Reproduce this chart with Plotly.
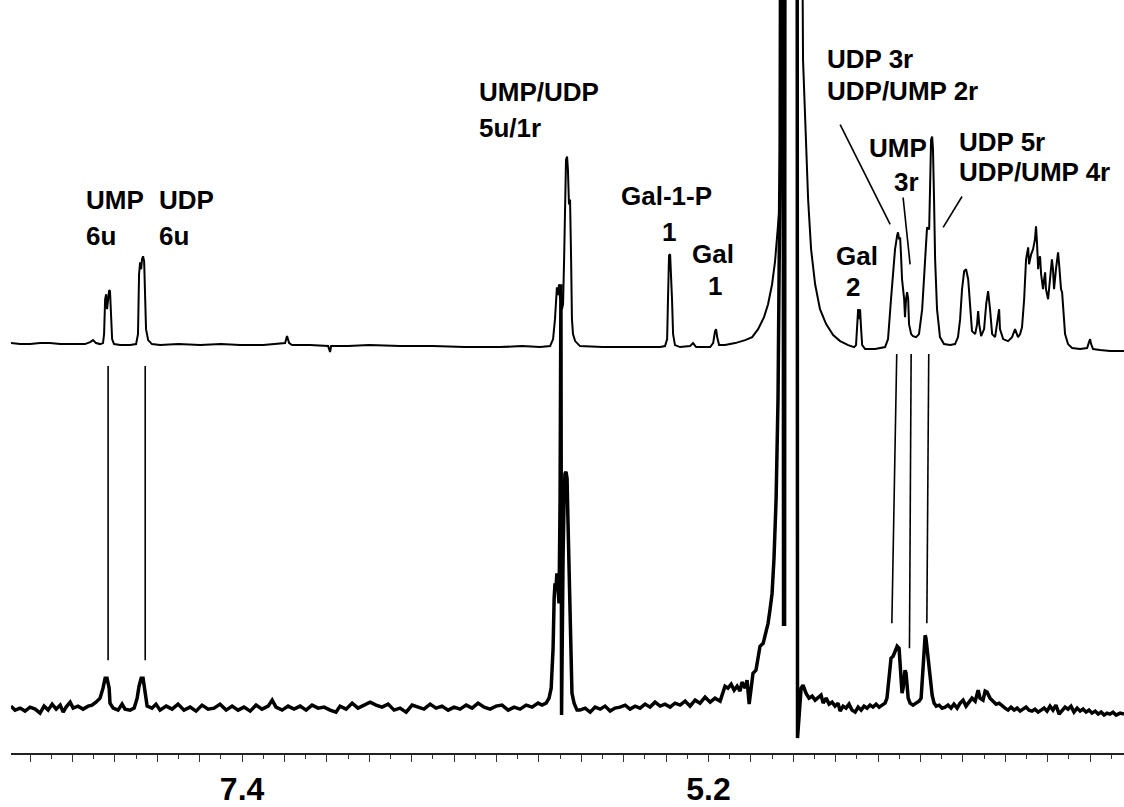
import plotly.graph_objects as go

# 1H NMR traces: (chemical shift in ppm, intensity above each trace's own baseline)
upper_spectrum = [
    (8.490, 1), (8.447, 0), (8.400, 0), (8.353, 1), (8.306, 1), (8.258, 0), (8.211, 0),
    (8.141, 0), (8.117, 2), (8.103, 4), (8.089, 1), (8.070, 0), (8.056, 1), (8.051, 10),
    (8.046, 45), (8.041, 50), (8.037, 35), (8.032, 45), (8.027, 54), (8.023, 53),
    (8.018, 25), (8.013, 5), (8.004, 0), (7.975, -1), (7.928, -1), (7.900, 0),
    (7.891, 10), (7.886, 70), (7.881, 82), (7.876, 75), (7.872, 85), (7.867, 88),
    (7.862, 83), (7.857, 45), (7.853, 15), (7.843, 4), (7.825, 0), (7.787, -1),
    (7.700, 0), (7.598, -1), (7.500, 0), (7.409, -1), (7.300, -1), (7.197, 1),
    (7.188, 8), (7.178, 1), (7.164, -1), (7.080, -1), (6.994, -2), (6.985, -8),
    (6.980, -2), (6.900, -2), (6.800, -1), (6.655, -2), (6.500, -2), (6.350, -3),
    (6.183, -3), (6.080, -2), (5.994, -3), (5.947, -2), (5.933, 5), (5.924, 25),
    (5.919, 47), (5.915, 57), (5.910, 49), (5.905, 60), (5.900, 45), (5.896, 53),
    (5.891, 35), (5.886, 40), (5.881, 85), (5.877, 145), (5.872, 185), (5.867, 188),
    (5.863, 175), (5.858, 140), (5.853, 145), (5.848, 85), (5.844, 25), (5.839, 10),
    (5.829, 3), (5.806, -2), (5.700, -3), (5.617, -3), (5.500, -3), (5.428, -3),
    (5.405, -2), (5.395, 5), (5.391, 45), (5.386, 89), (5.381, 90), (5.376, 50),
    (5.372, 45), (5.367, 10), (5.358, -1), (5.334, -3), (5.287, -2), (5.273, 1),
    (5.258, -3), (5.192, -3), (5.178, 1), (5.169, 13), (5.164, 15), (5.159, 7),
    (5.150, -1), (5.122, -1), (5.074, 1), (5.027, 4), (4.994, 7), (4.966, 15),
    (4.938, 27), (4.919, 40), (4.900, 60), (4.886, 83), (4.872, 115), (4.862, 145),
    (4.853, 205), (4.848, 285), (4.843, 800), (4.768, 800), (4.754, 285), (4.744, 225),
    (4.730, 145), (4.716, 95), (4.697, 60), (4.674, 35), (4.645, 20), (4.612, 9),
    (4.579, 3), (4.541, -1), (4.513, -3), (4.504, -1), (4.499, 15), (4.494, 35),
    (4.490, 25), (4.485, 35), (4.480, 15), (4.475, -1), (4.461, -5), (4.414, -5),
    (4.367, -3), (4.353, 5), (4.339, 45), (4.329, 75), (4.320, 95), (4.310, 109),
    (4.306, 112), (4.301, 105), (4.296, 107), (4.292, 90), (4.287, 65), (4.277, 45),
    (4.273, 27), (4.268, 45), (4.263, 52), (4.258, 45), (4.254, 20), (4.244, 10),
    (4.235, 8), (4.221, 7), (4.207, 10), (4.192, 35), (4.183, 65), (4.174, 105),
    (4.169, 117), (4.159, 115), (4.155, 145), (4.150, 205), (4.145, 208), (4.141, 195),
    (4.136, 145), (4.131, 85), (4.122, 35), (4.108, 7), (4.089, 0), (4.060, -1),
    (4.037, 0), (4.023, 7), (4.013, 25), (4.004, 55), (3.994, 73), (3.985, 75),
    (3.975, 65), (3.966, 35), (3.957, 13), (3.942, 10), (3.933, 20), (3.928, 33),
    (3.923, 20), (3.914, 8), (3.900, 15), (3.890, 40), (3.881, 53), (3.872, 35),
    (3.862, 10), (3.848, 7), (3.834, 25), (3.829, 35), (3.825, 15), (3.810, 5),
    (3.787, 3), (3.768, 7), (3.754, 15), (3.740, 7), (3.730, 10), (3.721, 17),
    (3.711, 45), (3.702, 85), (3.692, 97), (3.688, 80), (3.678, 90), (3.669, 95),
    (3.660, 105), (3.655, 118), (3.650, 100), (3.645, 75), (3.641, 85), (3.636, 88),
    (3.631, 70), (3.622, 55), (3.617, 65), (3.612, 72), (3.608, 55), (3.598, 45),
    (3.589, 65), (3.580, 85), (3.575, 75), (3.570, 55), (3.561, 75), (3.551, 92),
    (3.546, 80), (3.537, 55), (3.532, 52), (3.527, 35), (3.518, 10), (3.504, 0),
    (3.485, -4), (3.447, -5), (3.414, -4), (3.405, 2), (3.400, 5), (3.395, 0),
    (3.386, -5), (3.353, -6), (3.306, -7), (3.240, -7),
]

lower_spectrum = [
    (8.490, 2), (8.471, -2), (8.447, 0), (8.424, -3), (8.400, 1), (8.376, -1),
    (8.353, -5), (8.334, 2), (8.315, -2), (8.296, 4), (8.277, -1), (8.258, 3),
    (8.244, -4), (8.230, 1), (8.211, 6), (8.197, 0), (8.174, 2), (8.150, -1),
    (8.126, 2), (8.108, 3), (8.089, 6), (8.070, 10), (8.056, 20), (8.046, 30),
    (8.037, 30), (8.027, 20), (8.023, 5), (8.008, 0), (7.985, -2), (7.966, 4),
    (7.952, -1), (7.928, -2), (7.909, 0), (7.895, 10), (7.886, 22), (7.876, 30),
    (7.867, 30), (7.857, 15), (7.848, 2), (7.825, 0), (7.806, 4), (7.787, -2),
    (7.758, 2), (7.730, -1), (7.702, 4), (7.674, -2), (7.645, 1), (7.617, -3),
    (7.589, 3), (7.560, -1), (7.532, 0), (7.504, 4), (7.475, -2), (7.447, 2),
    (7.419, -2), (7.391, 1), (7.362, -3), (7.334, 3), (7.306, -1), (7.277, 2),
    (7.258, 8), (7.240, 1), (7.211, -2), (7.183, 2), (7.155, -1), (7.126, 2),
    (7.098, -2), (7.070, 3), (7.041, 0), (7.013, 1), (6.985, -2), (6.957, -4),
    (6.938, 2), (6.909, -1), (6.881, 5), (6.853, 0), (6.825, 3), (6.796, 6),
    (6.768, 3), (6.740, 1), (6.711, 4), (6.683, -2), (6.655, 0), (6.626, -4),
    (6.598, 3), (6.570, 1), (6.542, -1), (6.513, 4), (6.485, 0), (6.457, 2),
    (6.428, -2), (6.400, 1), (6.372, -1), (6.343, 3), (6.315, 0), (6.287, 5),
    (6.258, 1), (6.230, -1), (6.202, 2), (6.174, 3), (6.145, -2), (6.117, 1),
    (6.089, -1), (6.060, 3), (6.032, 1), (6.004, 5), (5.985, 3), (5.966, 5),
    (5.952, 10), (5.942, 20), (5.933, 60), (5.928, 110), (5.924, 125), (5.919, 122),
    (5.915, 135), (5.910, 120), (5.905, 105), (5.900, 210), (5.896, 425), (5.893, -7),
    (5.891, 90), (5.886, 150), (5.881, 210), (5.877, 235), (5.872, 237), (5.867, 230),
    (5.863, 190), (5.858, 140), (5.853, 110), (5.848, 50), (5.844, 15), (5.834, 5),
    (5.820, -2), (5.806, -2), (5.782, 0), (5.758, -4), (5.735, 1), (5.711, -1),
    (5.688, 2), (5.664, -3), (5.641, 0), (5.617, 1), (5.593, 3), (5.570, -1),
    (5.546, 2), (5.523, 0), (5.499, 4), (5.476, 1), (5.452, 6), (5.428, 2),
    (5.405, 4), (5.381, 1), (5.358, 5), (5.334, 3), (5.310, 7), (5.287, 2),
    (5.263, 8), (5.240, 5), (5.216, 11), (5.192, 6), (5.169, 10), (5.145, 7),
    (5.122, 22), (5.108, 20), (5.093, 24), (5.079, 18), (5.065, 22), (5.051, 17),
    (5.042, 26), (5.027, 20), (5.018, 28), (5.008, 4), (4.999, 20), (4.990, 35),
    (4.976, 38), (4.966, 50), (4.957, 62), (4.942, 65), (4.928, 78), (4.919, 85),
    (4.909, 100), (4.900, 115), (4.891, 150), (4.881, 210), (4.872, 310), (4.867, 410),
    (4.862, 560), (4.858, 1000), (4.848, 1000), (4.846, 84), (4.841, 84), (4.839, 1000),
    (4.782, 1000), (4.780, -30), (4.773, -10), (4.763, 20), (4.754, 23), (4.740, 15),
    (4.726, 10), (4.711, 12), (4.697, 8), (4.683, 10), (4.669, 13), (4.659, 5),
    (4.645, 10), (4.631, 4), (4.617, 6), (4.603, 2), (4.589, 5), (4.579, -3),
    (4.565, 2), (4.551, 0), (4.537, 4), (4.523, -2), (4.508, -4), (4.494, 1),
    (4.480, -2), (4.466, 2), (4.452, 0), (4.438, 3), (4.424, 1), (4.409, 4),
    (4.395, 1), (4.381, 3), (4.367, 5), (4.358, 10), (4.348, 30), (4.339, 50),
    (4.329, 52), (4.320, 58), (4.310, 62), (4.301, 60), (4.292, 35), (4.287, 15),
    (4.282, 20), (4.277, 30), (4.273, 38), (4.268, 35), (4.263, 20), (4.258, 10),
    (4.249, 5), (4.235, 3), (4.221, 5), (4.207, 7), (4.197, 10), (4.188, 40),
    (4.183, 65), (4.178, 73), (4.174, 70), (4.164, 50), (4.155, 30), (4.145, 13),
    (4.136, 5), (4.126, 2), (4.112, 3), (4.098, 0), (4.084, 1), (4.070, 3),
    (4.056, 0), (4.042, 4), (4.027, 0), (4.013, 5), (3.999, 8), (3.985, 2),
    (3.971, 6), (3.957, 10), (3.942, 7), (3.933, 13), (3.928, 18), (3.919, 10),
    (3.905, 8), (3.895, 17), (3.886, 16), (3.872, 10), (3.858, 7), (3.843, 4),
    (3.829, 5), (3.815, 2), (3.801, 0), (3.787, -2), (3.773, 1), (3.758, -2),
    (3.744, 0), (3.730, -3), (3.716, -1), (3.702, 1), (3.688, -2), (3.674, -3),
    (3.660, -1), (3.645, -4), (3.631, -2), (3.617, 0), (3.603, -3), (3.589, 2),
    (3.575, -2), (3.561, 3), (3.546, -6), (3.532, -2), (3.518, 1), (3.504, -1),
    (3.490, 2), (3.476, -4), (3.461, 0), (3.447, -3), (3.433, -1), (3.419, -4),
    (3.405, -2), (3.391, -5), (3.376, -3), (3.362, -6), (3.348, -4), (3.334, -7),
    (3.320, -5), (3.306, -6), (3.292, -4), (3.277, -7), (3.258, -5), (3.240, -6),
]

# labelled shifts on the ppm axis
tick_labels = {7.4: "7.4", 5.2: "5.2"}

# vertical stacking of the two spectra
UPPER_OFFSET = 410
LOWER_OFFSET = 45

FONT = "Liberation Sans, Arial, Helvetica, sans-serif"

up_x, up_y = zip(*upper_spectrum)
lo_x, lo_y = zip(*lower_spectrum)

fig = go.Figure()
fig.add_trace(go.Scatter(
    x=list(up_x), y=[UPPER_OFFSET + v for v in up_y], mode="lines",
    line=dict(color="black", width=2), hoverinfo="skip",
))
fig.add_trace(go.Scatter(
    x=list(lo_x), y=[LOWER_OFFSET + v for v in lo_y], mode="lines",
    line=dict(color="black", width=3.5), hoverinfo="skip",
))

# peak assignments: (lines, x ppm per line, y per line, horizontal anchor)
labels = [
    (["UMP", "6u"], [8.145, 8.145], [554, 518], "left"),
    (["UDP", "6u"], [7.801, 7.801], [554, 518], "left"),
    (["UMP/UDP", "5u/1r"], [6.291, 6.291], [663, 627], "left"),
    (["Gal-1-P", "1"], [5.400, 5.386], [558, 522], "center"),
    (["Gal", "1"], [5.178, 5.169], [500, 468], "center"),
    (["Gal", "2"], [4.499, 4.518], [498, 467], "center"),
    (["UDP 3r", "UDP/UMP 2r"], [4.650, 4.650], [696, 664], "left"),
    (["UMP", "3r"], [4.306, 4.268], [607, 573], "center"),
    (["UDP 5r", "UDP/UMP 4r"], [4.027, 4.027], [613, 583], "left"),
]
for lines, xs, ys, anchor in labels:
    for text, lx, ly in zip(lines, xs, ys):
        fig.add_annotation(
            x=lx, y=ly, xref="x", yref="y", text=f"<b>{text}</b>",
            showarrow=False, xanchor=anchor, yanchor="middle",
            font=dict(family=FONT, size=26, color="black"),
        )

# leader lines from labels to peaks, and correlation lines between the traces
connectors = [
    ((8.032, 388), (8.032, 93)),
    ((7.857, 388), (7.857, 93)),
    ((4.312, 400), (4.335, 130)),
    ((4.244, 400), (4.252, 105)),
    ((4.161, 400), (4.170, 130)),
    ((4.579, 630), (4.343, 530)),
    ((4.282, 557), (4.249, 490)),
    ((4.004, 558), (4.093, 527)),
]
for (x0, y0), (x1, y1) in connectors:
    fig.add_shape(type="line", xref="x", yref="y", x0=x0, y0=y0, x1=x1, y1=y1,
                  line=dict(color="black", width=1.6))

major_ticks = [round(8.4 - 0.2 * i, 1) for i in range(26)]
fig.update_xaxes(
    range=[8.490, 3.240], showgrid=False, zeroline=False,
    showline=True, linecolor="#222", linewidth=1.5,
    ticks="outside", ticklen=7, tickwidth=1.3, tickcolor="#333",
    tickvals=major_ticks,
    ticktext=[tick_labels.get(v, "") for v in major_ticks],
    tickfont=dict(family=FONT, size=32, color="black", weight="bold"),
    minor=dict(dtick=0.1, tick0=8.4, ticks="outside", ticklen=4,
               tickwidth=1.3, tickcolor="#333", showgrid=False),
)
fig.update_yaxes(range=[0, 755], visible=False, showgrid=False, zeroline=False)

fig.update_layout(
    width=1124, height=807,
    margin=dict(l=11, r=0, t=0, b=52),
    paper_bgcolor="white", plot_bgcolor="white",
    showlegend=False,
)

fig.write_html("out.html")
